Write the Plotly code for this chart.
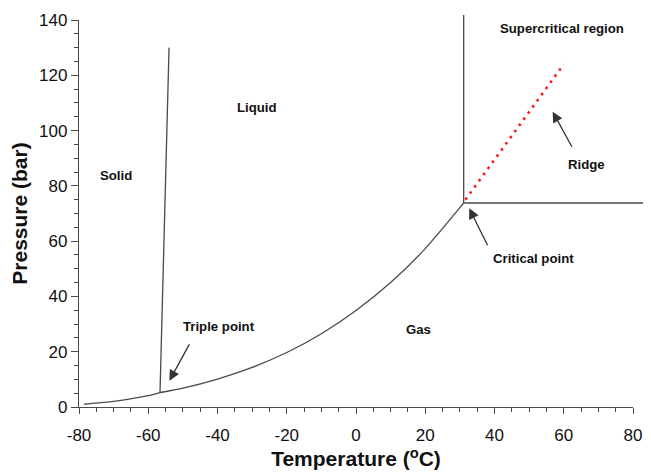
import plotly.graph_objects as go

# --- data ---
vap_T = [-78.5, -70, -60, -56.6, -50, -40, -30, -20, -10, 0, 10, 20, 30, 31.1]
vap_P = [1.0, 2.0, 4.1, 5.2, 6.8, 10.1, 14.3, 19.7, 26.5, 34.9, 45.0, 57.3, 72.1, 73.8]

melt_T = [-56.6, -54.0]
melt_P = [5.2, 130.0]

super_v_T = [31.1, 31.1]
super_v_P = [73.8, 142.0]
super_h_T = [31.1, 86.0]
super_h_P = [73.8, 73.8]

ridge_T = [31.6, 60.0]
ridge_P = [75.0, 124.0]

label_text = ["Solid", "Liquid", "Triple point", "Gas", "Supercritical region", "Ridge", "Critical point"]
label_T = [-69.3, -28.6, -39.6, 18.1, 59.6, 66.7, 51.4]
label_P = [83.6, 108.2, 29.3, 27.9, 137.0, 87.6, 53.9]

arrow_tip_T = [-53.9, 32.7, 56.8]
arrow_tip_P = [9.5, 71.9, 106.8]
arrow_tail_T = [-47.9, 38.2, 62.6]
arrow_tail_P = [23.2, 58.0, 93.6]

x_ticks = [-80, -60, -40, -20, 0, 20, 40, 60, 80]
x_ticklabels = ["-80", "-60", "-40", "-20", "0", "20", "40", "60", "80"]
y_ticks = [0, 20, 40, 60, 80, 100, 120, 140]
y_ticklabels = ["0", "20", "40", "60", "80", "100", "120", "140"]

# --- layout geometry (page body adds an 8px offset) ---
PAGE_OFF = 8
W, H = 651 - PAGE_OFF, 472 - PAGE_OFF
ml, mr, mt, mb = 79 - PAGE_OFF, 0, 15 - PAGE_OFF, 65
fx = (633 - 79) / (W - ml - mr)
fy = (407 - 20) / (H - mt - mb)
x_lo, x_hi = -80, 80
y_lo, y_hi = 0, 140
x2_hi = x_lo + (x_hi - x_lo) / fx
y2_hi = y_lo + (y_hi - y_lo) / fy

line_col = "#4a4a4a"
font_fam = "Liberation Sans, Arial, sans-serif"

fig = go.Figure()

fig.add_trace(go.Scatter(x=vap_T, y=vap_P, mode="lines",
                         line=dict(color=line_col, width=1.3, shape="spline", smoothing=0.6),
                         showlegend=False, hoverinfo="skip", xaxis="x", yaxis="y"))
fig.add_trace(go.Scatter(x=melt_T, y=melt_P, mode="lines",
                         line=dict(color=line_col, width=1.3),
                         showlegend=False, hoverinfo="skip", xaxis="x", yaxis="y"))
fig.add_trace(go.Scatter(x=super_v_T, y=super_v_P, mode="lines",
                         line=dict(color=line_col, width=1.3),
                         showlegend=False, hoverinfo="skip", xaxis="x2", yaxis="y2"))
fig.add_trace(go.Scatter(x=super_h_T, y=super_h_P, mode="lines",
                         line=dict(color=line_col, width=1.3),
                         showlegend=False, hoverinfo="skip", xaxis="x2", yaxis="y2"))
fig.add_trace(go.Scatter(x=ridge_T, y=ridge_P, mode="lines",
                         line=dict(color="#ff1a1a", width=2.6, dash="2.6px,5px"),
                         showlegend=False, hoverinfo="skip", xaxis="x", yaxis="y"))

annotations = []
for t, xx, yy in zip(label_text, label_T, label_P):
    annotations.append(dict(x=xx, y=yy, xref="x", yref="y", text="<b>" + t + "</b>", showarrow=False,
                            font=dict(family=font_fam, size=13.2, color="#111111"),
                            xanchor="center", yanchor="middle"))
for tx, ty, ax, ay in zip(arrow_tip_T, arrow_tip_P, arrow_tail_T, arrow_tail_P):
    annotations.append(dict(x=tx, y=ty, xref="x", yref="y", ax=ax, ay=ay,
                            axref="x", ayref="y", text="", showarrow=True,
                            arrowhead=2, arrowsize=1.6, arrowwidth=1.3,
                            arrowcolor="#333333", standoff=0))

fig.update_layout(
    width=W, height=H,
    margin=dict(l=ml, r=mr, t=mt, b=mb, autoexpand=False),
    paper_bgcolor="white", plot_bgcolor="rgba(0,0,0,0)",
    font=dict(family=font_fam, color="#111111"),
    annotations=annotations,
    xaxis=dict(domain=[0, fx], range=[x_lo, x_hi], anchor="y", automargin=False,
               tickmode="array", tickvals=x_ticks, ticktext=x_ticklabels,
               ticks="outside", ticklen=6, tickwidth=1.2, tickcolor=line_col,
               ticklabelstandoff=6,
               showline=True, linecolor=line_col, linewidth=1.4,
               showgrid=False, zeroline=False,
               tickfont=dict(size=17, color="#111111"),
               minor=dict(dtick=5, ticks="outside", ticklen=4, tickwidth=1, tickcolor=line_col),
               title=dict(text="Temperature (<sup>o</sup>C)",
                          font=dict(size=21, color="#111111", family=font_fam, weight="bold"),
                          standoff=2)),
    yaxis=dict(domain=[0, fy], range=[y_lo, y_hi], anchor="x", automargin=False,
               tickmode="array", tickvals=y_ticks, ticktext=y_ticklabels,
               ticks="outside", ticklen=7, tickwidth=1.2, tickcolor=line_col,
               showline=True, linecolor=line_col, linewidth=1.4,
               showgrid=False, zeroline=False,
               tickfont=dict(size=17, color="#111111"),
               minor=dict(dtick=5, ticks="outside", ticklen=4, tickwidth=1, tickcolor=line_col),
               title=dict(text="Pressure (bar)",
                          font=dict(size=21, color="#111111", family=font_fam, weight="bold"),
                          standoff=10)),
    xaxis2=dict(domain=[0, 1], range=[x_lo, x2_hi], anchor="y2", visible=False,
                showgrid=False, zeroline=False),
    yaxis2=dict(domain=[0, 1], range=[y_lo, y2_hi], anchor="x2", visible=False,
                showgrid=False, zeroline=False),
)

fig.write_html("out.html")
